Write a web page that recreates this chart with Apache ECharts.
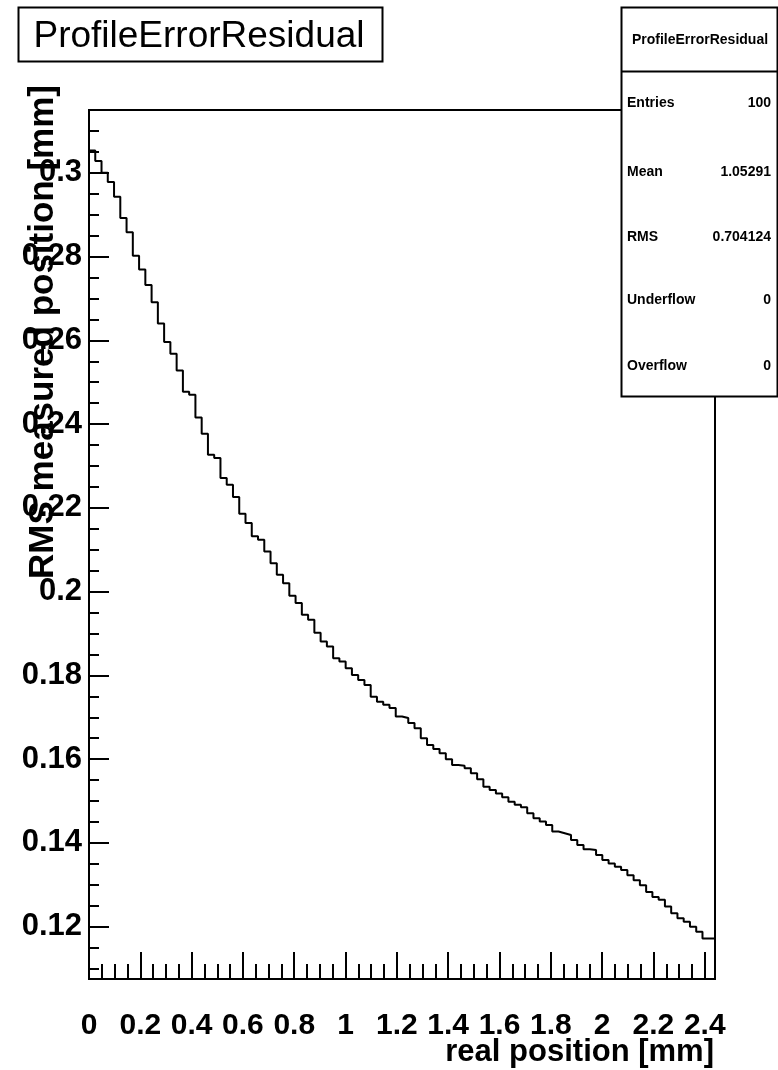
<!DOCTYPE html>
<html>
<head>
<meta charset="utf-8">
<script src="https://cdn.jsdelivr.net/npm/echarts@6/dist/echarts.min.js"></script>
<style>
html,body{margin:0;padding:0;background:#fff;}
#chart{width:778px;height:1070px;}
</style>
</head>
<body>
<div id="chart"></div>
<script>
// ---- data ----
const chartTitle = "ProfileErrorResidual";
const xTitle = "real position [mm]";
const yTitle = "RMS measured position [mm]";
const xMin = 0, xMax = 2.44, nBins = 100;
const yMin = 0.1075, yMax = 0.315;
const rmsValues = [
  0.3053, 0.3028, 0.3000, 0.2978, 0.2943, 0.2892, 0.2858, 0.2802, 0.2769, 0.2732,
  0.2691, 0.2640, 0.2596, 0.2568, 0.2528, 0.2477, 0.2470, 0.2416, 0.2377, 0.2327,
  0.2319, 0.2271, 0.2255, 0.2226, 0.2186,
  0.2164, 0.2132, 0.2124, 0.2096, 0.2068, 0.2040, 0.2020, 0.1990, 0.1973, 0.1945,
  0.1933, 0.1902, 0.1881, 0.1869, 0.1841, 0.1833, 0.1817, 0.1801, 0.1789, 0.1777,
  0.1749, 0.1737, 0.1730, 0.1722, 0.1702, 0.1698,
  0.1686, 0.1674, 0.1650, 0.1634, 0.1624, 0.1614, 0.1600, 0.1586, 0.1584, 0.1578,
  0.1566, 0.1552, 0.1534, 0.1526, 0.1518, 0.1509, 0.1498, 0.1491, 0.1485, 0.1471,
  0.1459, 0.1451, 0.1443, 0.1427,
  0.1423, 0.1419, 0.1407, 0.1395, 0.1385, 0.1383, 0.1371, 0.1359, 0.1351, 0.1343,
  0.1335, 0.1323, 0.1311, 0.1299, 0.1283, 0.1271, 0.1264, 0.1248, 0.1232, 0.1220,
  0.1212, 0.1200, 0.1188, 0.1172, 0.1172
];
const xTicks = [0, 0.2, 0.4, 0.6, 0.8, 1, 1.2, 1.4, 1.6, 1.8, 2, 2.2, 2.4];
const yTicks = [0.12, 0.14, 0.16, 0.18, 0.2, 0.22, 0.24, 0.26, 0.28, 0.3];
const statsHeader = "ProfileErrorResidual";
const statsLabels = ["Entries", "Mean", "RMS", "Underflow", "Overflow"];
const statsValues = ["100", "1.05291", "0.704124", "0", "0"];

// ---- derived helpers ----
const binW = (xMax - xMin) / nBins;
const stepData = [];
for (let i = 0; i < nBins; i++) stepData.push([xMin + i * binW, rmsValues[i]]);
stepData.push([xMax, rmsValues[nBins - 1]]);
const xMinor = [];
for (let i = 0; i * 0.05 <= xMax + 1e-9; i++) xMinor.push(+(i * 0.05).toFixed(2));
const yMinor = [];
for (let i = 0; 0.11 + i * 0.005 <= yMax + 1e-9; i++) yMinor.push(+(0.11 + i * 0.005).toFixed(3));

const FONT = "'Liberation Sans', Arial, Helvetica, sans-serif";
const lbl = {color: '#000', fontFamily: FONT, fontWeight: 'bold', fontSize: 30};

const chart = echarts.init(document.getElementById('chart'), null, {renderer: 'canvas'});

const statsGraphics = [];
const boxL = 621, boxR = 777, boxT = 7.5, boxB = 396.5, sepY = 71.5;
const SF = 14;
statsGraphics.push({type: 'rect', z: 100, shape: {x: boxL + 0.5, y: boxT, width: boxR - boxL, height: boxB - boxT},
  style: {fill: '#fff', stroke: '#000', lineWidth: 2}});
statsGraphics.push({type: 'line', z: 101, shape: {x1: boxL, y1: sepY, x2: boxR + 1, y2: sepY}, style: {stroke: '#000', lineWidth: 2}});
statsGraphics.push({type: 'text', z: 102, x: (boxL + boxR) / 2 + 1, y: 40,
  style: {text: statsHeader, fontFamily: FONT, fontWeight: 'bold', fontSize: SF, fill: '#000', align: 'center', verticalAlign: 'middle'}});
const rowY = [103, 172, 237, 300, 366];
statsLabels.forEach((s, i) => {
  statsGraphics.push({type: 'text', z: 102, x: 627, y: rowY[i],
    style: {text: s, fontFamily: FONT, fontWeight: 'bold', fontSize: SF, fill: '#000', align: 'left', verticalAlign: 'middle'}});
  statsGraphics.push({type: 'text', z: 102, x: 771, y: rowY[i],
    style: {text: statsValues[i], fontFamily: FONT, fontWeight: 'bold', fontSize: SF, fill: '#000', align: 'right', verticalAlign: 'middle'}});
});

const option = {
  animation: false,
  backgroundColor: '#fff',
  grid: {left: 89, right: 63, top: 110, bottom: 91, show: true, borderColor: '#000', borderWidth: 2, backgroundColor: 'transparent'},
  xAxis: [
    {type: 'value', min: xMin, max: xMax, position: 'bottom',
     axisLine: {show: true, lineStyle: {color: '#000', width: 2}},
     axisTick: {show: true, inside: true, length: 27, lineStyle: {color: '#000', width: 2}, customValues: xTicks},
     axisLabel: {show: true, margin: 32, customValues: xTicks, ...lbl},
     splitLine: {show: false}},
    {type: 'value', min: xMin, max: xMax, position: 'bottom',
     axisLine: {show: false},
     axisTick: {show: true, inside: true, length: 15, lineStyle: {color: '#000', width: 2}, customValues: xMinor},
     axisLabel: {show: false}, splitLine: {show: false}}
  ],
  yAxis: [
    {type: 'value', min: yMin, max: yMax, position: 'left',
     axisLine: {show: true, lineStyle: {color: '#000', width: 2}},
     axisTick: {show: true, inside: true, length: 20, lineStyle: {color: '#000', width: 2}, customValues: yTicks},
     axisLabel: {show: true, margin: 7, customValues: yTicks, ...lbl, fontSize: 31},
     splitLine: {show: false}},
    {type: 'value', min: yMin, max: yMax, position: 'left',
     axisLine: {show: false},
     axisTick: {show: true, inside: true, length: 10, lineStyle: {color: '#000', width: 2}, customValues: yMinor},
     axisLabel: {show: false}, splitLine: {show: false}}
  ],
  series: [{
    type: 'line', step: 'end', xAxisIndex: 0, yAxisIndex: 0,
    data: stepData, showSymbol: false, symbol: 'none',
    lineStyle: {color: '#000', width: 2}, z: 5
  }],
  graphic: [
    {type: 'rect', z: 100, shape: {x: 18.5, y: 7.5, width: 364, height: 54}, style: {fill: '#fff', stroke: '#000', lineWidth: 2}},
    {type: 'text', z: 101, x: 199, y: 37, style: {text: chartTitle, fontFamily: FONT, fontSize: 37, fill: '#000', align: 'center', verticalAlign: 'middle'}},
    {type: 'text', z: 50, x: 714, y: 1052, style: {text: xTitle, fontFamily: FONT, fontWeight: 'bold', fontSize: 31, fill: '#000', align: 'right', verticalAlign: 'middle'}},
    {type: 'text', z: 50, x: 43, y: 85, rotation: Math.PI / 2, style: {text: yTitle, fontFamily: FONT, fontWeight: 'bold', fontSize: 35, fill: '#000', align: 'right', verticalAlign: 'middle'}},
    ...statsGraphics
  ]
};
chart.setOption(option);
</script>
</body>
</html>
